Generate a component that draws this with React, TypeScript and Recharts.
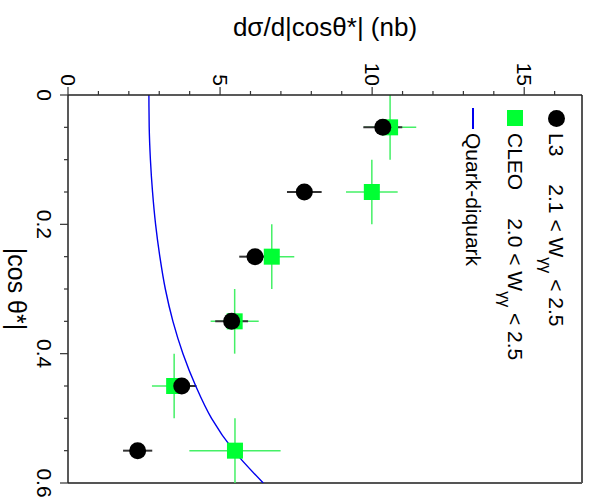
import React from 'react';
import {
  ComposedChart, Scatter, Line, XAxis, YAxis, ErrorBar, ReferenceLine, Legend, Label,
} from 'recharts';

// measured bins in |cos theta*|
const COS_BINS = [0.05, 0.15, 0.25, 0.35, 0.45, 0.55];

const L3_XSEC = [10.35, 7.77, 6.15, 5.38, 3.74, 2.29];
const L3_ERR = [0.64, 0.57, 0.52, 0.54, 0.48, 0.48];

const CLEO_XSEC = [10.59, 9.99, 6.7, 5.48, 3.49, 5.49];
const CLEO_ERR = [0.86, 0.85, 0.74, 0.79, 0.73, 1.5];
const CLEO_COS_ERR = [0.05, 0.05, 0.05, 0.05, 0.05, 0.05];

// quark-diquark model curve
const CURVE_COS = [0, 0.05, 0.1, 0.15, 0.2, 0.25, 0.3, 0.35, 0.4, 0.45, 0.5, 0.55, 0.6];
const CURVE_XSEC = [2.66, 2.67, 2.71, 2.78, 2.88, 3.02, 3.2, 3.45, 3.78, 4.2, 4.72, 5.45, 6.42];

const X_TICKS = [0, 0.05, 0.1, 0.15, 0.2, 0.25, 0.3, 0.35, 0.4, 0.45, 0.5, 0.55, 0.6];
const Y_TICKS = [0, 1, 2, 3, 4, 5, 6, 7, 8, 9, 10, 11, 12, 13, 14, 15, 16];

const SERIES_NAMES = ['L3', 'CLEO', 'Quark-diquark'];
const W_LOW = ['2.1', '2.0', ''];
const W_HIGH = ['2.5', '2.5', ''];

const l3Data = COS_BINS.map((c, i) => ({ c, v: L3_XSEC[i], ev: L3_ERR[i] }));
const cleoData = COS_BINS.map((c, i) => ({ c, v: CLEO_XSEC[i], ev: CLEO_ERR[i], ec: CLEO_COS_ERR[i] }));
const curveData = CURVE_COS.map((c, i) => ({ c, v: CURVE_XSEC[i] }));

const FONT = '"Liberation Sans", Arial, Helvetica, sans-serif';
const GREEN = '#00ff33';

const XTick = (props: any) => {
  const { x, y, payload } = props;
  const v = payload.value;
  const major = Math.abs(v * 5 - Math.round(v * 5)) < 1e-6;
  return (
    <g>
      <line x1={x} x2={x} y1={y} y2={y + (major ? 8 : 4)} stroke="#333" strokeWidth={1.2} />
      {major && (
        <text x={x} y={y + 31} textAnchor="middle" fontSize={21} fill="#000" fontFamily={FONT}>
          {v === 0 ? '0' : v.toFixed(1)}
        </text>
      )}
    </g>
  );
};

const YTick = (props: any) => {
  const { x, y, payload } = props;
  const v = payload.value;
  const major = v % 5 === 0;
  return (
    <g>
      <line x1={x - (major ? 8 : 4)} x2={x} y1={y} y2={y} stroke="#333" strokeWidth={1.2} />
      {major && (
        <text x={x - 9} y={y + 7.5} textAnchor="end" fontSize={21} fill="#000" fontFamily={FONT}>
          {v}
        </text>
      )}
    </g>
  );
};

const XTitle = (props: any) => {
  const vb = props.viewBox || {};
  return (
    <text x={vb.x + vb.width / 2} y={vb.y + 60} textAnchor="middle" fontSize={25} fill="#000" fontFamily={FONT}>
      |cos θ*|
    </text>
  );
};

const YTitle = (props: any) => {
  const vb = props.viewBox || {};
  const cx = vb.x + 1;
  const cy = vb.y + vb.height / 2;
  return (
    <text x={cx} y={cy} transform={`rotate(-90, ${cx}, ${cy})`} textAnchor="middle" fontSize={26} fill="#000" fontFamily={FONT}>
      dσ/d|cosθ*| (nb)
    </text>
  );
};

const CircleShape = (p: any) => <circle cx={p.cx} cy={p.cy} r={8.5} fill="#000" />;
const SquareShape = (p: any) => <rect x={p.cx - 8} y={p.cy - 8} width={16} height={16} fill={GREEN} />;

const marker = (name: string) => {
  if (name === 'L3') return <div style={{ width: 17, height: 17, borderRadius: '50%', background: '#000' }} />;
  if (name === 'CLEO') return <div style={{ width: 16, height: 16, background: GREEN }} />;
  return <div style={{ width: 21, height: 1.5, background: '#0000ee' }} />;
};

const renderLegend = (props: any) => {
  const items = [...(props.payload || [])].sort(
    (a: any, b: any) => SERIES_NAMES.indexOf(a.value) - SERIES_NAMES.indexOf(b.value)
  );
  return (
    <div style={{ fontFamily: FONT, fontSize: 21, color: '#000' }}>
      {items.map((item: any) => {
        const i = SERIES_NAMES.indexOf(item.value);
        return (
          <div key={item.value} style={{ display: 'flex', alignItems: 'center', height: 41.5, whiteSpace: 'pre' }}>
            <div style={{ width: 22, display: 'flex', justifyContent: 'center' }}>{marker(item.value)}</div>
            <span style={{ marginLeft: 4 }}>{item.value}</span>
            {W_LOW[i] && (
              <span style={{ marginLeft: 28 }}>
                {W_LOW[i]} {'< W'}
                <span style={{ fontSize: 16, position: 'relative', top: 9 }}>γγ</span>
                {' < '}{W_HIGH[i]}
              </span>
            )}
          </div>
        );
      })}
    </div>
  );
};

export default function App() {
  return (
    <div style={{ position: 'absolute', left: 0, top: 0, width: 589, height: 501, overflow: 'hidden', background: '#fff', fontFamily: FONT }}>
      <div style={{ width: 501, height: 589, transformOrigin: '0 0', transform: 'translateX(589px) rotate(90deg)' }}>
        <ComposedChart width={501} height={589} margin={{ top: 7, right: 18, bottom: 28, left: 35 }}>
          <XAxis
            type="number"
            dataKey="c"
            domain={[0, 0.6]}
            ticks={X_TICKS}
            interval={0}
            tick={<XTick />}
            tickLine={false}
            tickSize={0}
            tickMargin={0}
            height={40}
            axisLine={{ stroke: '#222', strokeWidth: 1.5 }}
            allowDataOverflow
          >
            <Label content={<XTitle />} />
          </XAxis>
          <YAxis
            type="number"
            domain={[0, 16.9]}
            ticks={Y_TICKS}
            interval={0}
            tick={<YTick />}
            tickLine={false}
            tickSize={0}
            tickMargin={0}
            width={60}
            axisLine={{ stroke: '#222', strokeWidth: 1.5 }}
            allowDataOverflow
          >
            <Label content={<YTitle />} />
          </YAxis>
          <ReferenceLine y={16.9} stroke="#555" strokeWidth={2} />
          <ReferenceLine x={0.6} stroke="#555" strokeWidth={2} />
          <Legend
            layout="vertical"
            align="center"
            verticalAlign="middle"
            content={renderLegend}
            wrapperStyle={{ left: 107, top: 12, width: 370 }}
          />
          <Scatter name="CLEO" data={cleoData} dataKey="v" shape={SquareShape} fill={GREEN} isAnimationActive={false}>
            <ErrorBar dataKey="ev" direction="y" width={0} stroke="#44f066" strokeWidth={1.5} />
            <ErrorBar dataKey="ec" direction="x" width={0} stroke="#44f066" strokeWidth={1.5} />
          </Scatter>
          <Scatter name="L3" data={l3Data} dataKey="v" shape={CircleShape} fill="#000" isAnimationActive={false}>
            <ErrorBar dataKey="ev" direction="y" width={0} stroke="#333" strokeWidth={2} />
          </Scatter>
          <Line
            name="Quark-diquark"
            data={curveData}
            dataKey="v"
            type="monotone"
            dot={false}
            stroke="#0000ee"
            strokeWidth={1.4}
            isAnimationActive={false}
          />
        </ComposedChart>
      </div>
    </div>
  );
}
